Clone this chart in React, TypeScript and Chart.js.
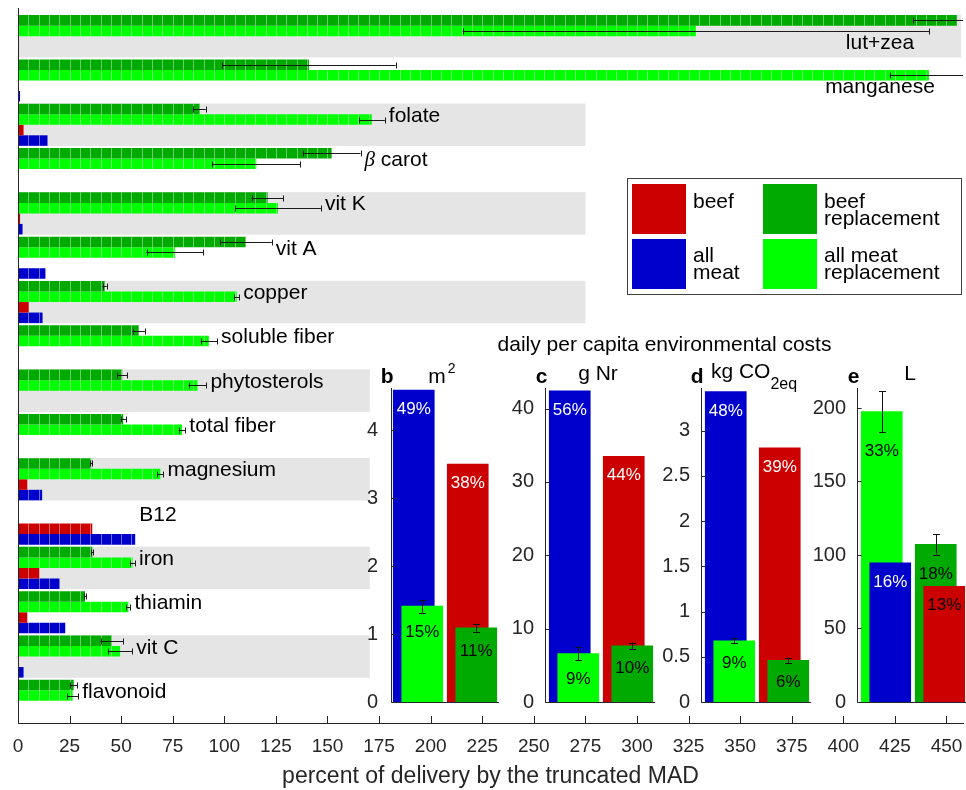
import React, { useEffect, useRef } from 'react';
import { Chart, registerables } from 'chart.js';

Chart.register(...registerables);

const FONT = '"Liberation Sans", Arial, Helvetica, sans-serif';
const RED = '#cc0000';
const BLUE = '#0000cc';
const DGREEN = '#00aa00';
const GREEN = '#00ff00';
const INK = '#262626';

// ---------- main panel: percent of delivery by the truncated MAD ----------
const nutrients = ['lut+zea', 'manganese', 'folate', 'β carot', 'vit K', 'vit A', 'copper', 'soluble fiber', 'phytosterols', 'total fiber', 'magnesium', 'B12', 'iron', 'thiamin', 'vit C', 'flavonoid'];
const beefReplacement = [455, 141, 88, 152, 121, 110.5, 42, 58.5, 50.5, 51, 35.5, 0, 36, 32.5, 45.5, 27];
const beefReplacementErr = [21, 42, 3, 14, 7.5, 12.5, 1, 3, 2.3, 1.3, 0.5, 0, 0.5, 0.5, 5.5, 1.8];
const allMeatReplacement = [328.5, 441.5, 171.5, 115.5, 126, 76, 106, 92.5, 87, 79.5, 69, 0, 55.5, 53.5, 49.5, 26.5];
const allMeatReplacementErr = [113, 19, 6.3, 21.3, 20.8, 13.7, 1.2, 4, 4.3, 1.6, 1.5, 0, 1.2, 1, 5.9, 2.7];
const beef = [0.5, 0.3, 2.7, 0.3, 1, 0, 5.2, 0, 0, 0, 4.5, 36, 10.3, 4.5, 0, 0];
const allMeat = [0.5, 1, 14.3, 0, 2.2, 13.3, 11.9, 0.3, 0, 0, 11.7, 56.8, 20.1, 22.9, 2.7, 0];
const bandEnd = [457, 0, 275, 0, 275, 0, 275, 0, 170.5, 0, 170.5, 0, 170.5, 0, 170.5, 0];
const xTicks = [0, 25, 50, 75, 100, 125, 150, 175, 200, 225, 250, 275, 300, 325, 350, 375, 400, 425, 450];
const xMax = 458;

// ---------- inset panels: daily per capita environmental costs ----------
const envLetters = ['b', 'c', 'd', 'e'];
const envAllMeat = [4.59, 42.4, 3.43, 94.6];
const envBeef = [3.5, 33.5, 2.81, 78.7];
const envAllRepl = [1.41, 6.6, 0.675, 197.5];
const envAllReplErr = [0.095, 0.9, 0.028, 14];
const envBeefRepl = [1.09, 7.65, 0.46, 107.3];
const envBeefReplErr = [0.055, 0.45, 0.03, 7];
const pctAllMeat = [49, 56, 48, 16];
const pctBeef = [38, 44, 39, 13];
const pctAllRepl = [15, 9, 9, 33];
const pctBeefRepl = [11, 10, 6, 18];
const envMax = [4.62, 42.8, 3.47, 213.6];
const envTicks = [
  [0, 1, 2, 3, 4],
  [0, 10, 20, 30, 40],
  [0, 0.5, 1, 1.5, 2, 2.5, 3],
  [0, 50, 100, 150, 200],
];
const pctBeefText = ['#ffffff', '#ffffff', '#ffffff', '#000000'];

// layout of the insets (page px)
const insetChartLeft = [391, 547, 703, 859];
const insetAxisOffset = [0, -2, -2, -2];
const insetTitleDy = [-5, -8, -10, -8];
const INSET_YW = 60;
const INSET_W = INSET_YW + 108 + 2;
const INSET_TOP = 330;
const INSET_H = 392;

const legendEntries = [
  { lines: ['beef'], color: RED, sx: 632, sy: 184, tx: 693, ty: 208 },
  { lines: ['beef', 'replacement'], color: DGREEN, sx: 763, sy: 184, tx: 824, ty: 208 },
  { lines: ['all', 'meat'], color: BLUE, sx: 632, sy: 239, tx: 693, ty: 262 },
  { lines: ['all meat', 'replacement'], color: GREEN, sx: 763, sy: 239, tx: 824, ty: 262 },
];

const f = (s: number, w = '') => `${w}${w ? ' ' : ''}${s}px ${FONT}`;

const mainPlugin = {
  id: 'mainDecor',
  beforeDatasetsDraw(chart: any) {
    const { ctx, scales } = chart;
    const x = scales.x, y = scales.y;
    const step = Math.abs(y.getPixelForValue(1) - y.getPixelForValue(0));
    const half = (step * 0.96) / 2;
    ctx.save();
    ctx.fillStyle = '#e5e5e5';
    bandEnd.forEach((v, i) => {
      if (!v) return;
      const cy = y.getPixelForValue(i);
      const x0 = x.getPixelForValue(0);
      const x1 = x.getPixelForValue(v);
      ctx.fillRect(x0, cy - half, x1 - x0, half * 2);
    });
    ctx.restore();
  },
  afterDatasetsDraw(chart: any) {
    const { ctx, scales, chartArea } = chart;
    const x = scales.x, y = scales.y;
    ctx.save();
    ctx.beginPath();
    ctx.rect(chartArea.left, 0, chartArea.right - chartArea.left + 4, chartArea.bottom);
    ctx.clip();
    // segment dividers every 5 %
    ctx.strokeStyle = 'rgba(255,255,255,0.42)';
    ctx.lineWidth = 1;
    chart.data.datasets.forEach((ds: any, di: number) => {
      const meta = chart.getDatasetMeta(di);
      meta.data.forEach((bar: any, i: number) => {
        const v = ds.data[i];
        if (!v) return;
        const h = bar.height;
        for (let k = 5; k < v - 0.4; k += 5) {
          const px = Math.round(x.getPixelForValue(k)) + 0.5;
          ctx.beginPath();
          ctx.moveTo(px, bar.y - h / 2);
          ctx.lineTo(px, bar.y + h / 2);
          ctx.stroke();
        }
      });
    });
    // error bars
    const errSets = [beefReplacementErr, allMeatReplacementErr];
    ctx.strokeStyle = '#1a1a1a';
    errSets.forEach((errs, di) => {
      const meta = chart.getDatasetMeta(di);
      meta.data.forEach((bar: any, i: number) => {
        const v = chart.data.datasets[di].data[i];
        const e = errs[i];
        if (!e) return;
        const lo = v - e, hi = v + e;
        const p0 = x.getPixelForValue(Math.max(lo, 0));
        const p1 = x.getPixelForValue(Math.min(hi, xMax));
        const cy = Math.round(bar.y) + 0.5;
        ctx.beginPath();
        ctx.moveTo(p0, cy);
        ctx.lineTo(p1, cy);
        if (lo >= 0) { ctx.moveTo(Math.round(p0) + 0.5, cy - 3); ctx.lineTo(Math.round(p0) + 0.5, cy + 3); }
        if (hi <= xMax) { ctx.moveTo(Math.round(p1) + 0.5, cy - 3); ctx.lineTo(Math.round(p1) + 0.5, cy + 3); }
        ctx.stroke();
      });
    });
    ctx.restore();

    // nutrient labels
    ctx.save();
    ctx.fillStyle = '#000';
    ctx.textBaseline = 'alphabetic';
    nutrients.forEach((name, i) => {
      const m = Math.max(
        beefReplacement[i] + beefReplacementErr[i],
        allMeatReplacement[i] + allMeatReplacementErr[i],
        beef[i],
        allMeat[i]
      );
      const cy = y.getPixelForValue(i);
      ctx.font = f(21);
      const isBeta = name.startsWith('β');
      const rest = isBeta ? name.slice(1) : name;
      let betaW = 0;
      if (isBeta) {
        ctx.font = `italic 21px "Liberation Serif", "DejaVu Serif", serif`;
        betaW = ctx.measureText('β').width;
        ctx.font = f(21);
      }
      const w = betaW + ctx.measureText(rest).width;
      let px = x.getPixelForValue(Math.min(m, xMax)) + 4;
      let by = cy - 3;
      if (px + w > chartArea.right) {
        // label does not fit to the right of the bars: put it centred beneath them
        px = chartArea.right - 83 - w / 2;
        by = cy + 13;
      }
      if (isBeta) {
        ctx.font = `italic 21px "Liberation Serif", "DejaVu Serif", serif`;
        ctx.fillText('β', px, by);
        ctx.font = f(21);
      }
      ctx.textAlign = 'left';
      ctx.fillText(rest, px + betaW, by);
    });
    ctx.restore();
  },
  afterDraw(chart: any) {
    const { ctx, scales, chartArea } = chart;
    const x = scales.x;
    ctx.save();
    ctx.strokeStyle = INK;
    ctx.lineWidth = 1;
    const lx = Math.round(chartArea.left) + 0.5;
    ctx.beginPath();
    ctx.moveTo(lx, 8);
    ctx.lineTo(lx, chartArea.bottom);
    ctx.stroke();
    // inward ticks
    const by = chartArea.bottom;
    ctx.beginPath();
    xTicks.forEach((t) => {
      const px = Math.round(x.getPixelForValue(t)) + 0.5;
      ctx.moveTo(px, by - 7);
      ctx.lineTo(px, by);
    });
    ctx.stroke();

    // inset group title
    ctx.fillStyle = '#000';
    ctx.font = f(21);
    ctx.textAlign = 'center';
    ctx.textBaseline = 'alphabetic';
    ctx.fillText('daily per capita environmental costs', 664.5, 351);

    // legend
    ctx.fillStyle = '#fff';
    ctx.fillRect(627, 178, 334, 116);
    ctx.strokeStyle = '#404040';
    ctx.strokeRect(627.5, 178.5, 334, 116);
    legendEntries.forEach((en) => {
      ctx.fillStyle = en.color;
      ctx.fillRect(en.sx, en.sy, 54, 50);
      ctx.fillStyle = '#000';
      ctx.font = f(21);
      ctx.textAlign = 'left';
      en.lines.forEach((ln, k) => ctx.fillText(ln, en.tx, en.ty + k * 17));
    });
    ctx.restore();
  },
};

function mainConfig(): any {
  return {
    type: 'bar',
    data: {
      labels: nutrients,
      datasets: [
        { label: 'beef replacement', data: beefReplacement, backgroundColor: DGREEN },
        { label: 'all meat replacement', data: allMeatReplacement, backgroundColor: GREEN },
        { label: 'beef', data: beef, backgroundColor: RED },
        { label: 'all meat', data: allMeat, backgroundColor: BLUE },
      ],
    },
    options: {
      indexAxis: 'y',
      animation: false,
      responsive: false,
      devicePixelRatio: 1,
      layout: { padding: { top: 14, left: 18, right: 3, bottom: 0 } },
      datasets: { bar: { categoryPercentage: 0.95, barPercentage: 1.0, borderWidth: 0 } },
      plugins: { legend: { display: false }, tooltip: { enabled: false }, title: { display: false } },
      scales: {
        y: { display: false, grid: { display: false } },
        x: {
          type: 'linear',
          position: 'bottom',
          min: 0,
          max: xMax,
          grid: { display: false, drawTicks: false },
          border: { display: true, color: INK, width: 1 },
          ticks: {
            font: { family: FONT, size: 19 },
            color: INK,
            padding: 12,
            maxRotation: 0,
            autoSkip: false,
            callback: (v: any) => String(v),
          },
          afterBuildTicks: (s: any) => { s.ticks = xTicks.map((v) => ({ value: v })); },
          afterFit: (s: any) => { s.height = 67; s.paddingLeft = 0; s.paddingRight = 0; },
          title: {
            display: true,
            text: 'percent of delivery by the truncated MAD',
            font: { family: FONT, size: 23 },
            color: INK,
            padding: { top: 1, bottom: 0 },
          },
        },
      },
    },
    plugins: [mainPlugin],
  };
}

function insetConfig(p: number): any {
  const series = [
    { label: 'all meat', v: envAllMeat[p], err: 0, pct: pctAllMeat[p], color: BLUE, cat: 0, text: '#ffffff' },
    { label: 'beef', v: envBeef[p], err: 0, pct: pctBeef[p], color: RED, cat: 1, text: pctBeefText[p] },
    { label: 'all meat replacement', v: envAllRepl[p], err: envAllReplErr[p], pct: pctAllRepl[p], color: GREEN, cat: 0, text: '#000000' },
    { label: 'beef replacement', v: envBeefRepl[p], err: envBeefReplErr[p], pct: pctBeefRepl[p], color: DGREEN, cat: 1, text: '#000000' },
  ];
  const datasets = series.map((s) => {
    const partner = series.find((o) => o.cat === s.cat && o !== s)!;
    const back = s.v >= partner.v;
    return {
      label: s.label,
      data: s.cat === 0 ? [s.v, null] : [null, s.v],
      backgroundColor: s.color,
      borderWidth: 0,
      grouped: false,
      barThickness: 41,
      order: back ? 2 : 1,
      back,
      err: s.err,
      pct: s.pct,
      textColor: s.text,
    };
  });

  const plugin = {
    id: 'inset' + p,
    afterDatasetsUpdate(chart: any) {
      chart.data.datasets.forEach((ds: any, di: number) => {
        const meta = chart.getDatasetMeta(di);
        const shift = ds.back ? -4.25 : 4.25;
        meta.data.forEach((el: any) => { el.x += shift; });
      });
    },
    afterDatasetsDraw(chart: any) {
      const { ctx, scales } = chart;
      const y = scales.y;
      ctx.save();
      chart.data.datasets.forEach((ds: any, di: number) => {
        const meta = chart.getDatasetMeta(di);
        meta.data.forEach((el: any, i: number) => {
          const v = ds.data[i];
          if (v === null || v === undefined) return;
          let low = el.y;
          if (ds.err) {
            const hiPx = y.getPixelForValue(v + ds.err);
            const loPx = y.getPixelForValue(v - ds.err);
            const cx = Math.round(el.x) + 0.5;
            ctx.strokeStyle = '#111';
            ctx.lineWidth = 1;
            ctx.beginPath();
            ctx.moveTo(cx, hiPx); ctx.lineTo(cx, loPx);
            ctx.moveTo(cx - 3.5, Math.round(hiPx) + 0.5); ctx.lineTo(cx + 3.5, Math.round(hiPx) + 0.5);
            ctx.moveTo(cx - 3.5, Math.round(loPx) + 0.5); ctx.lineTo(cx + 3.5, Math.round(loPx) + 0.5);
            ctx.stroke();
            low = Math.max(low, loPx);
          }
          ctx.fillStyle = ds.textColor;
          ctx.font = f(17);
          ctx.textAlign = 'center';
          ctx.textBaseline = 'middle';
          ctx.fillText(`${ds.pct}%`, el.x, low + 19.5);
        });
      });
      ctx.restore();
    },
    afterDraw(chart: any) {
      const { ctx, scales, chartArea } = chart;
      const y = scales.y;
      const ax = Math.round(chartArea.left + insetAxisOffset[p]) + 0.5;
      const by = Math.round(chartArea.bottom) + 0.5;
      ctx.save();
      ctx.strokeStyle = INK;
      ctx.lineWidth = 1;
      ctx.beginPath();
      ctx.moveTo(ax, chartArea.top);
      ctx.lineTo(ax, by);
      ctx.lineTo(chartArea.right, by);
      envTicks[p].forEach((t) => {
        const py = Math.round(y.getPixelForValue(t)) + 0.5;
        ctx.moveTo(ax, py);
        ctx.lineTo(ax + 4, py);
      });
      ctx.stroke();

      // panel letter
      ctx.fillStyle = '#000';
      ctx.font = f(21, 'bold');
      ctx.textAlign = 'right';
      ctx.textBaseline = 'alphabetic';
      ctx.fillText(envLetters[p], ax + 2, chartArea.top - 5);

      // unit title
      const base = chartArea.top + insetTitleDy[p];
      const cx = (chartArea.left + chartArea.right) / 2 - 3;
      let parts: [string, number, number][] = [];
      if (p === 0) parts = [['m', 21, 0], ['2', 14, -10]];
      else if (p === 1) parts = [['g Nr', 21, 0]];
      else if (p === 2) parts = [['kg CO', 21, 0], ['2eq', 16, 11]];
      else parts = [['L', 21, 0]];
      let total = 0;
      parts.forEach(([t, s]) => { ctx.font = f(s); total += ctx.measureText(t).width + (t === '2' ? 2 : 0); });
      let px = cx - total / 2;
      ctx.textAlign = 'left';
      parts.forEach(([t, s, dy]) => {
        ctx.font = f(s);
        if (t === '2') px += 2;
        ctx.fillText(t, px, base + dy);
        px += ctx.measureText(t).width;
      });
      ctx.restore();
    },
  };

  return {
    type: 'bar',
    data: { labels: ['all meat', 'beef'], datasets },
    options: {
      animation: false,
      responsive: false,
      devicePixelRatio: 1,
      layout: { padding: { top: 58, bottom: 20, left: 0, right: 2 } },
      plugins: { legend: { display: false }, tooltip: { enabled: false } },
      scales: {
        x: { type: 'category', display: false, offset: true, grid: { display: false } },
        y: {
          type: 'linear',
          min: 0,
          max: envMax[p],
          grid: { display: false, drawTicks: false },
          border: { display: false },
          ticks: {
            font: { family: FONT, size: 20 },
            color: INK,
            padding: 13,
            callback: (v: any) => String(v),
          },
          afterBuildTicks: (s: any) => { s.ticks = envTicks[p].map((v) => ({ value: v })); },
          afterFit: (s: any) => { s.width = INSET_YW; s.paddingTop = 0; s.paddingBottom = 0; },
        },
      },
    },
    plugins: [plugin],
  };
}

export default function App() {
  const mainRef = useRef<HTMLCanvasElement | null>(null);
  const insetRefs = useRef<(HTMLCanvasElement | null)[]>([]);

  useEffect(() => {
    const charts: Chart[] = [];
    if (mainRef.current) charts.push(new Chart(mainRef.current, mainConfig()));
    insetRefs.current.forEach((c, p) => {
      if (c) charts.push(new Chart(c, insetConfig(p)));
    });
    return () => charts.forEach((c) => c.destroy());
  }, []);

  return (
    <div style={{ position: 'absolute', left: 0, top: 0, width: 966, height: 790, overflow: 'hidden', background: '#fff' }}>
      <canvas ref={mainRef} width={966} height={790} style={{ position: 'absolute', left: 0, top: 0, width: 966, height: 790 }} />
      {insetChartLeft.map((l, p) => (
        <canvas
          key={p}
          ref={(el) => { insetRefs.current[p] = el; }}
          width={INSET_W}
          height={INSET_H}
          style={{ position: 'absolute', left: l - INSET_YW, top: INSET_TOP, width: INSET_W, height: INSET_H }}
        />
      ))}
    </div>
  );
}
